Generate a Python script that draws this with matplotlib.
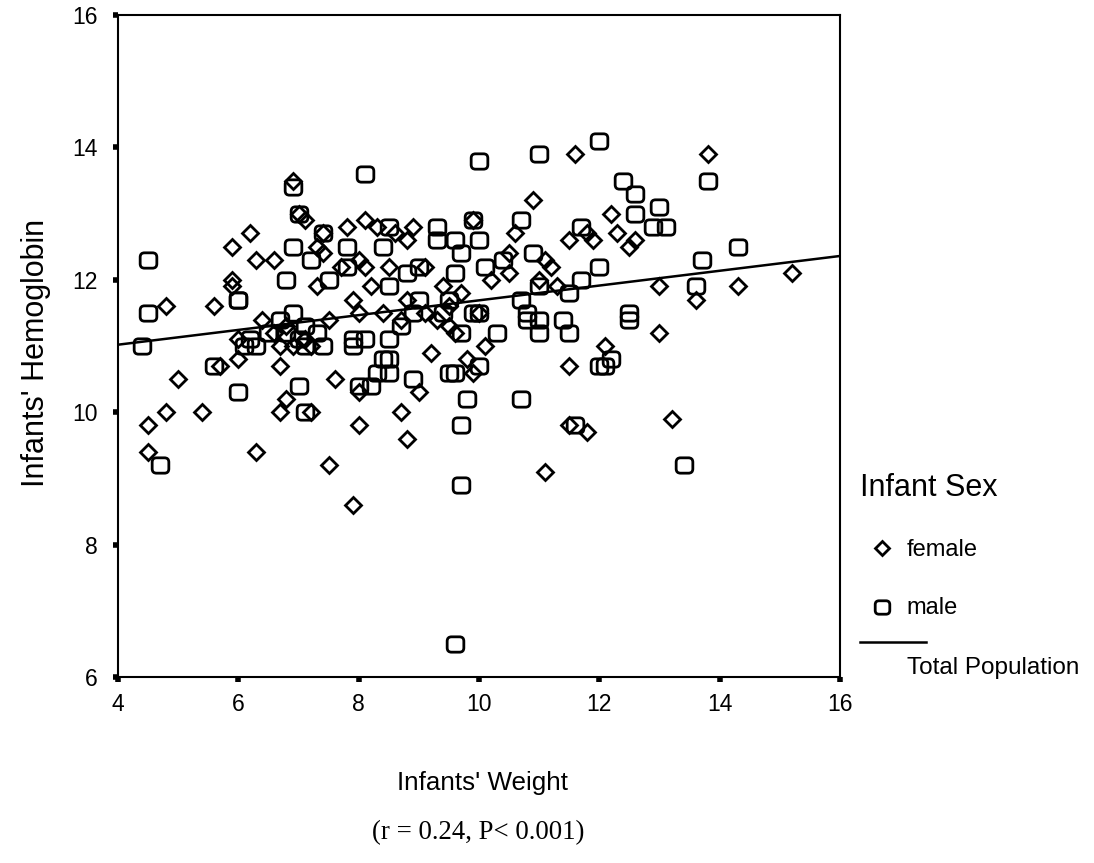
import numpy as np
import matplotlib
matplotlib.use("Agg")
import matplotlib.pyplot as plt
from matplotlib.path import Path
from matplotlib.lines import Line2D

# female infants (diamonds): weight, hemoglobin
female_w = [4.5, 4.5, 4.8, 4.8, 5.0, 5.4, 5.6, 5.7, 5.9, 5.9, 5.9, 6.0, 6.0, 6.2, 6.3,
            6.3, 6.4, 6.6, 6.6, 6.7, 6.7, 6.7, 6.8, 6.8, 6.9, 6.9, 7.0, 7.1, 7.1, 7.2,
            7.2, 7.3, 7.3, 7.4, 7.4, 7.5, 7.5, 7.6, 7.7, 7.8, 7.9, 7.9, 8.0, 8.0, 8.0,
            8.0, 8.1, 8.1, 8.2, 8.3, 8.4, 8.5, 8.6, 8.7, 8.7, 8.8, 8.8, 8.8, 8.9, 9.0,
            9.1, 9.1, 9.2, 9.3, 9.4, 9.5, 9.5, 9.6, 9.7, 9.8, 9.9, 9.9, 10.0, 10.1, 10.2,
            10.5, 10.5, 10.6, 10.9, 11.0, 11.1, 11.1, 11.2, 11.3, 11.5, 11.5, 11.5, 11.6,
            11.8, 11.8, 11.9, 12.1, 12.2, 12.3, 12.5, 12.6, 13.0, 13.0, 13.2, 13.6, 13.8,
            14.3, 15.2]
female_hb = [9.8, 9.4, 11.6, 10.0, 10.5, 10.0, 11.6, 10.7, 12.5, 12.0, 11.9, 11.1, 10.8, 12.7, 12.3,
             9.4, 11.4, 11.2, 12.3, 11.0, 10.7, 10.0, 10.2, 11.3, 13.5, 11.0, 13.0, 12.9, 11.1, 11.0,
             10.0, 12.5, 11.9, 12.4, 12.7, 9.2, 11.4, 10.5, 12.2, 12.8, 11.7, 8.6, 12.3, 11.5, 9.8,
             10.3, 12.9, 12.2, 11.9, 12.8, 11.5, 12.2, 12.7, 11.4, 10.0, 9.6, 11.7, 12.6, 12.8, 10.3,
             12.2, 11.5, 10.9, 11.4, 11.9, 11.6, 11.3, 11.2, 11.8, 10.8, 12.9, 10.6, 11.5, 11.0, 12.0,
             12.1, 12.4, 12.7, 13.2, 12.0, 9.1, 12.3, 12.2, 11.9, 12.6, 9.8, 10.7, 13.9,
             12.7, 9.7, 12.6, 11.0, 13.0, 12.7, 12.5, 12.6, 11.9, 11.2, 9.9, 11.7, 13.9,
             11.9, 12.1]

# male infants (rounded squares)
male_w = [4.4, 4.5, 4.5, 4.7, 5.6, 6.0, 6.0, 6.0, 6.1, 6.2, 6.3, 6.5, 6.7, 6.8, 6.8,
          6.9, 6.9, 6.9, 7.0, 7.0, 7.0, 7.1, 7.1, 7.1, 7.2, 7.3, 7.4, 7.4, 7.5, 7.8,
          7.8, 7.9, 7.9, 8.0, 8.1, 8.1, 8.2, 8.3, 8.4, 8.4, 8.5, 8.5, 8.5, 8.5, 8.5,
          8.7, 8.8, 8.9, 8.9, 9.0, 9.0, 9.3, 9.3, 9.4, 9.5, 9.5, 9.6, 9.6, 9.6, 9.6,
          9.7, 9.7, 9.7, 9.7, 9.8, 9.9, 9.9, 10.0, 10.0, 10.0, 10.0, 10.1, 10.3, 10.4,
          10.7, 10.7, 10.7, 10.8, 10.8, 10.9, 11.0, 11.0, 11.0, 11.0, 11.4, 11.5, 11.5,
          11.6, 11.7, 11.7, 12.0, 12.0, 12.0, 12.1, 12.2, 12.4, 12.5, 12.5, 12.6, 12.6,
          12.9, 13.0, 13.1, 13.4, 13.6, 13.7, 13.8, 14.3]
male_hb = [11.0, 12.3, 11.5, 9.2, 10.7, 11.7, 11.7, 10.3, 11.0, 11.1, 11.0, 11.2, 11.4, 12.0, 11.2,
           13.4, 12.5, 11.5, 13.0, 11.1, 10.4, 11.3, 11.0, 10.0, 12.3, 11.2, 12.7, 11.0, 12.0, 12.5,
           12.2, 11.1, 11.0, 10.4, 13.6, 11.1, 10.4, 10.6, 10.8, 12.5, 12.8, 11.9, 11.1, 10.8, 10.6,
           11.3, 12.1, 11.5, 10.5, 12.2, 11.7, 12.8, 12.6, 11.5, 11.7, 10.6, 10.6, 12.6, 12.1, 6.5,
           12.4, 11.2, 9.8, 8.9, 10.2, 12.9, 11.5, 13.8, 12.6, 11.5, 10.7, 12.2, 11.2, 12.3,
           12.9, 11.7, 10.2, 11.5, 11.4, 12.4, 13.9, 11.9, 11.4, 11.2, 11.4, 11.2, 11.8,
           9.8, 12.0, 12.8, 14.1, 12.2, 10.7, 10.7, 10.8, 13.5, 11.5, 11.4, 13.3, 13.0,
           12.8, 13.1, 12.8, 9.2, 11.9, 12.3, 13.5, 12.5]

# total population fit line, read at both ends of the axis
line_x = [4, 16]
line_y = [11.02, 12.36]


def rounded_square(w=1.0, h=0.92, r=0.26):
    x0, x1, y0, y1 = -w / 2, w / 2, -h / 2, h / 2
    verts = [(x0 + r, y0), (x1 - r, y0), (x1, y0), (x1, y0 + r),
             (x1, y1 - r), (x1, y1), (x1 - r, y1),
             (x0 + r, y1), (x0, y1), (x0, y1 - r),
             (x0, y0 + r), (x0, y0), (x0 + r, y0), (x0 + r, y0)]
    codes = [Path.MOVETO, Path.LINETO, Path.CURVE3, Path.CURVE3,
             Path.LINETO, Path.CURVE3, Path.CURVE3,
             Path.LINETO, Path.CURVE3, Path.CURVE3,
             Path.LINETO, Path.CURVE3, Path.CURVE3, Path.CLOSEPOLY]
    return Path(verts, codes)


sq = rounded_square()
plt.rcParams['font.family'] = ['Liberation Sans', 'DejaVu Sans']

fig = plt.figure(figsize=(10.94, 8.63), dpi=100)
ax = fig.add_axes([0.1079, 0.2155, 0.6599, 0.7671])

ax.plot(female_w, female_hb, linestyle='none', marker='D', ms=8.5,
        mfc='none', mec='black', mew=2.0)
ax.plot(male_w, male_hb, linestyle='none', marker=sq, ms=12,
        mfc='none', mec='black', mew=2.0)
ax.plot(line_x, line_y, color='black', lw=1.8)

ax.set_xlim(4, 16)
ax.set_ylim(6, 16)
ax.set_xticks([4, 6, 8, 10, 12, 14, 16])
ax.set_yticks([6, 8, 10, 12, 14, 16])
ax.tick_params(direction='out', length=3.5, width=4, labelsize=16.5,
               top=False, right=False)
ax.tick_params(axis='x', pad=8)
ax.tick_params(axis='y', pad=11)
for s in ax.spines.values():
    s.set_linewidth(1.5)

fig.text(0.441, 0.0927, "Infants' Weight", ha='center', va='center', fontsize=18.7)
fig.text(0.033, 0.591, "Infants' Hemoglobin", ha='center', va='center',
         rotation=90, fontsize=22)
fig.text(0.437, 0.035, "(r = 0.24, P< 0.001)", ha='center', va='center',
         fontsize=19.3, family=['Liberation Serif', 'DejaVu Serif'])

# legend drawn by hand to match the layout
fig.text(0.786, 0.435, "Infant Sex", ha='left', va='center', fontsize=22)
fig.lines.append(Line2D([0.806], [0.365], transform=fig.transFigure, marker='D',
                        ms=7, mfc='none', mec='black', mew=2.0, linestyle='none'))
fig.text(0.829, 0.363, "female", ha='left', va='center', fontsize=17)
fig.lines.append(Line2D([0.806], [0.297], transform=fig.transFigure, marker=sq,
                        ms=10.5, mfc='none', mec='black', mew=2.0, linestyle='none'))
fig.text(0.829, 0.295, "male", ha='left', va='center', fontsize=17)
fig.lines.append(Line2D([0.786, 0.846], [0.256, 0.256], transform=fig.transFigure,
                        color='black', lw=1.8))
fig.text(0.829, 0.226, "Total Population", ha='left', va='center', fontsize=17.5)

fig.savefig('out.png', dpi=100)
